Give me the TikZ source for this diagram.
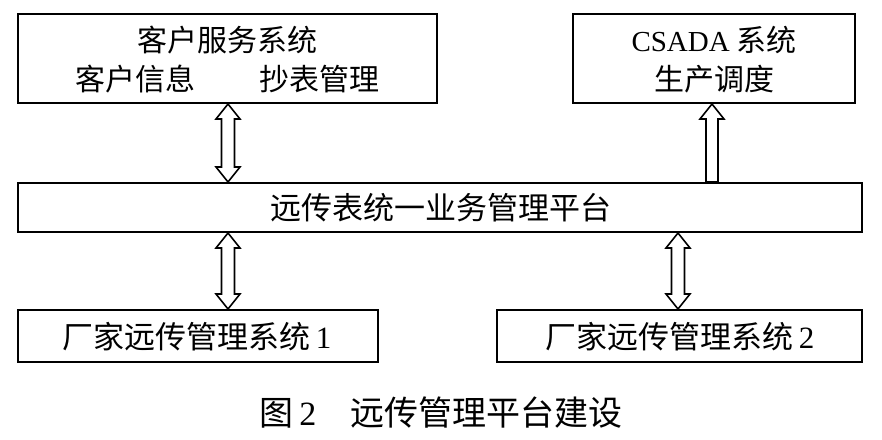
\documentclass[tikz,border=0pt]{standalone}
\usepackage{fontspec}
\setmainfont{Liberation Serif}
\newfontfamily\cjk{Noto Sans CJK SC}
\usetikzlibrary{calc}
\tikzset{
  box/.style={draw=black, line width=2pt, rectangle, inner sep=0pt},
  lbl/.style={inner sep=0pt, font=\cjk\fontsize{30}{34}\selectfont},
  arrowshape/.style={draw=black, line width=1.6pt, fill=white, line join=miter},
}
\newcommand\dbarrow[2]{%
  \draw[arrowshape] (#1) -- ($(#1)+(12,15)$) -- ($(#1)+(6.5,15)$) -- ($(#2)+(6.5,-15)$) -- ($(#2)+(12,-15)$) -- (#2) -- ($(#2)+(-12,-15)$) -- ($(#2)+(-6.5,-15)$) -- ($(#1)+(-6.5,15)$) -- ($(#1)+(-12,15)$) -- cycle;}
\newcommand\sgarrow[2]{%
  \draw[arrowshape] (#1) -- ($(#1)+(12,15)$) -- ($(#1)+(6,15)$) -- ($(#2)+(6,0)$) -- ($(#2)+(-6,0)$) -- ($(#1)+(-6,15)$) -- ($(#1)+(-12,15)$) -- cycle;}
\begin{document}
\begin{tikzpicture}[x=1pt,y=-1pt]
\useasboundingbox[fill=white] (0,0) rectangle (882,439);
% boxes
\node[box, minimum width=419pt, minimum height=89pt] (A) at (227.5,58.5) {};
\node[box, minimum width=282pt, minimum height=89pt] (B) at (714,58.5) {};
\node[box, minimum width=844pt, minimum height=49pt] (P) at (440,207.5) {};
\node[box, minimum width=360pt, minimum height=52pt] (F1) at (198,336) {};
\node[box, minimum width=365pt, minimum height=52pt] (F2) at (679.5,336) {};
% texts
\node[lbl] (a1) at (227,40) {客户服务系统};
\node[lbl] (a2) at (135,79) {客户信息};
\node[lbl] (a3) at (319,79) {抄表管理};
\node[lbl] (b1) at (714,40) {{\rmfamily\fontsize{29}{34}\selectfont CSADA} 系统};
\node[lbl] (b2) at (714,79) {生产调度};
\node[lbl, font=\cjk\fontsize{31}{34}\selectfont] (p1) at (441,208) {远传表统一业务管理平台};
\node[lbl, font=\cjk\fontsize{31}{34}\selectfont] (f1) at (197,337) {厂家远传管理系统\,{\rmfamily 1}};
\node[lbl, font=\cjk\fontsize{31}{34}\selectfont] (f2) at (680,337) {厂家远传管理系统\,{\rmfamily 2}};
\node[lbl, font=\cjk\fontsize{34}{38}\selectfont] (cap) at (441,413) {图\,{\rmfamily 2}\hspace{1em}远传管理平台建设};
% arrow positions
\coordinate (xl) at (228,0);
\coordinate (xr) at (712,0);
\coordinate (xb) at (678,0);
\coordinate (t1) at (A.south -| xl);
\coordinate (b1) at (P.north -| xl);
\coordinate (t2) at (B.south -| xr);
\coordinate (b2) at (P.north -| xr);
\coordinate (t3) at (P.south -| xl);
\coordinate (b3) at (F1.north -| xl);
\coordinate (t4) at (P.south -| xb);
\coordinate (b4) at (F2.north -| xb);
\dbarrow{t1}{b1}
\sgarrow{t2}{b2}
\dbarrow{t3}{b3}
\dbarrow{t4}{b4}
\end{tikzpicture}
\end{document}
